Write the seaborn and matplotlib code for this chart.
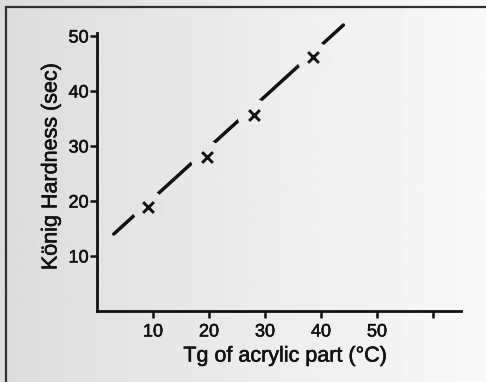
import numpy as np
import matplotlib
matplotlib.use("Agg")
import matplotlib.pyplot as plt
import matplotlib.patheffects as pe
import seaborn as sns

# Data
tg = [9.1, 19.6, 28.0, 38.6]
hardness = [19.0, 28.0, 35.6, 46.1]
fit_tg = [3.0, 44.0]
fit_hardness = [14.0, 52.0]
x_ticks = [10, 20, 30, 40, 50, 60]
x_tick_labels = ["10", "20", "30", "40", "50", ""]
y_ticks = [10, 20, 30, 40, 50]
y_tick_labels = ["10", "20", "30", "40", "50"]

sns.set_style("ticks")
plt.rcParams["font.family"] = ["Liberation Sans", "DejaVu Sans"]

W, H = 486, 382
fig = plt.figure(figsize=(W / 100, H / 100), dpi=100)

# scanned-paper background: grey at left fading to near white at right
bg = fig.add_axes([0, 0, 1, 1], zorder=-10)
xs = np.linspace(0, 1, 400)
g_left, g_right = 0.86, 0.975
grad_vals = g_left + (g_right - g_left) * xs ** 0.9
bg.imshow(grad_vals[None, :], aspect="auto", cmap="gray", vmin=0, vmax=1,
          extent=[0, 1, 0, 1])
bg.set_xlim(0, 1)
bg.set_ylim(0, 1)
bg.axis("off")
ink = "#111111"
bg.plot([6 / W, 1], [1 - 7 / H, 1 - 7 / H], color="#303030", lw=1.6)
bg.plot([6 / W, 6 / W], [0, 1 - 7 / H], color="#303030", lw=1.6)

ax = fig.add_axes([97 / W, 1 - 311 / H, 364 / W, (311 - 33) / H])
ax.set_facecolor("none")
ax.set_xlim(0, 65)
ax.set_ylim(0, 50.55)

sns.lineplot(x=fit_tg, y=fit_hardness, ax=ax, color=ink, linewidth=2.5,
             zorder=2, clip_on=False)

# gaps in the line around each marker (paper coloured halo)
fig.canvas.draw()
halo_cols = []
for xv, yv in zip(tg, hardness):
    px, _ = ax.transData.transform((xv, yv))
    f = px / W
    g = g_left + (g_right - g_left) * f ** 0.9
    halo_cols.append((g, g, g))
ax.scatter(tg, hardness, s=560, c=halo_cols, marker="o", linewidths=0,
           zorder=3)
sns.scatterplot(x=tg, y=hardness, ax=ax, marker="x", s=60, color=ink,
                linewidth=2.1, zorder=4)

sns.despine(ax=ax)
for s in ["left", "bottom"]:
    ax.spines[s].set_linewidth(2.0)
    ax.spines[s].set_color(ink)

ax.set_xticks(x_ticks)
ax.set_xticklabels(x_tick_labels)
ax.set_yticks(y_ticks)
ax.set_yticklabels(y_tick_labels)
ax.tick_params(axis="both", direction="out", length=5, width=1.8,
               color=ink, labelcolor="#111111", labelsize=13)
ax.tick_params(axis="y", pad=1)
ax.tick_params(axis="x", pad=4)

ax.set_xlabel("Tg of acrylic part (°C)", fontsize=15.5, color="#111111")
ax.set_ylabel("König Hardness (sec)", fontsize=15.5, color="#111111")
ax.xaxis.label.set_va("center")
ax.yaxis.label.set_va("center")
ax.xaxis.set_label_coords((285 - 97) / 364, (311 - 356) / 278)
ax.yaxis.set_label_coords((51 - 97) / 364, (311 - 167) / 278)

heavy = [pe.withStroke(linewidth=0.4, foreground="#111111")]
for t in ax.get_xticklabels() + ax.get_yticklabels() + [ax.xaxis.label, ax.yaxis.label]:
    t.set_path_effects(heavy)

fig.savefig("out.png", dpi=100)
